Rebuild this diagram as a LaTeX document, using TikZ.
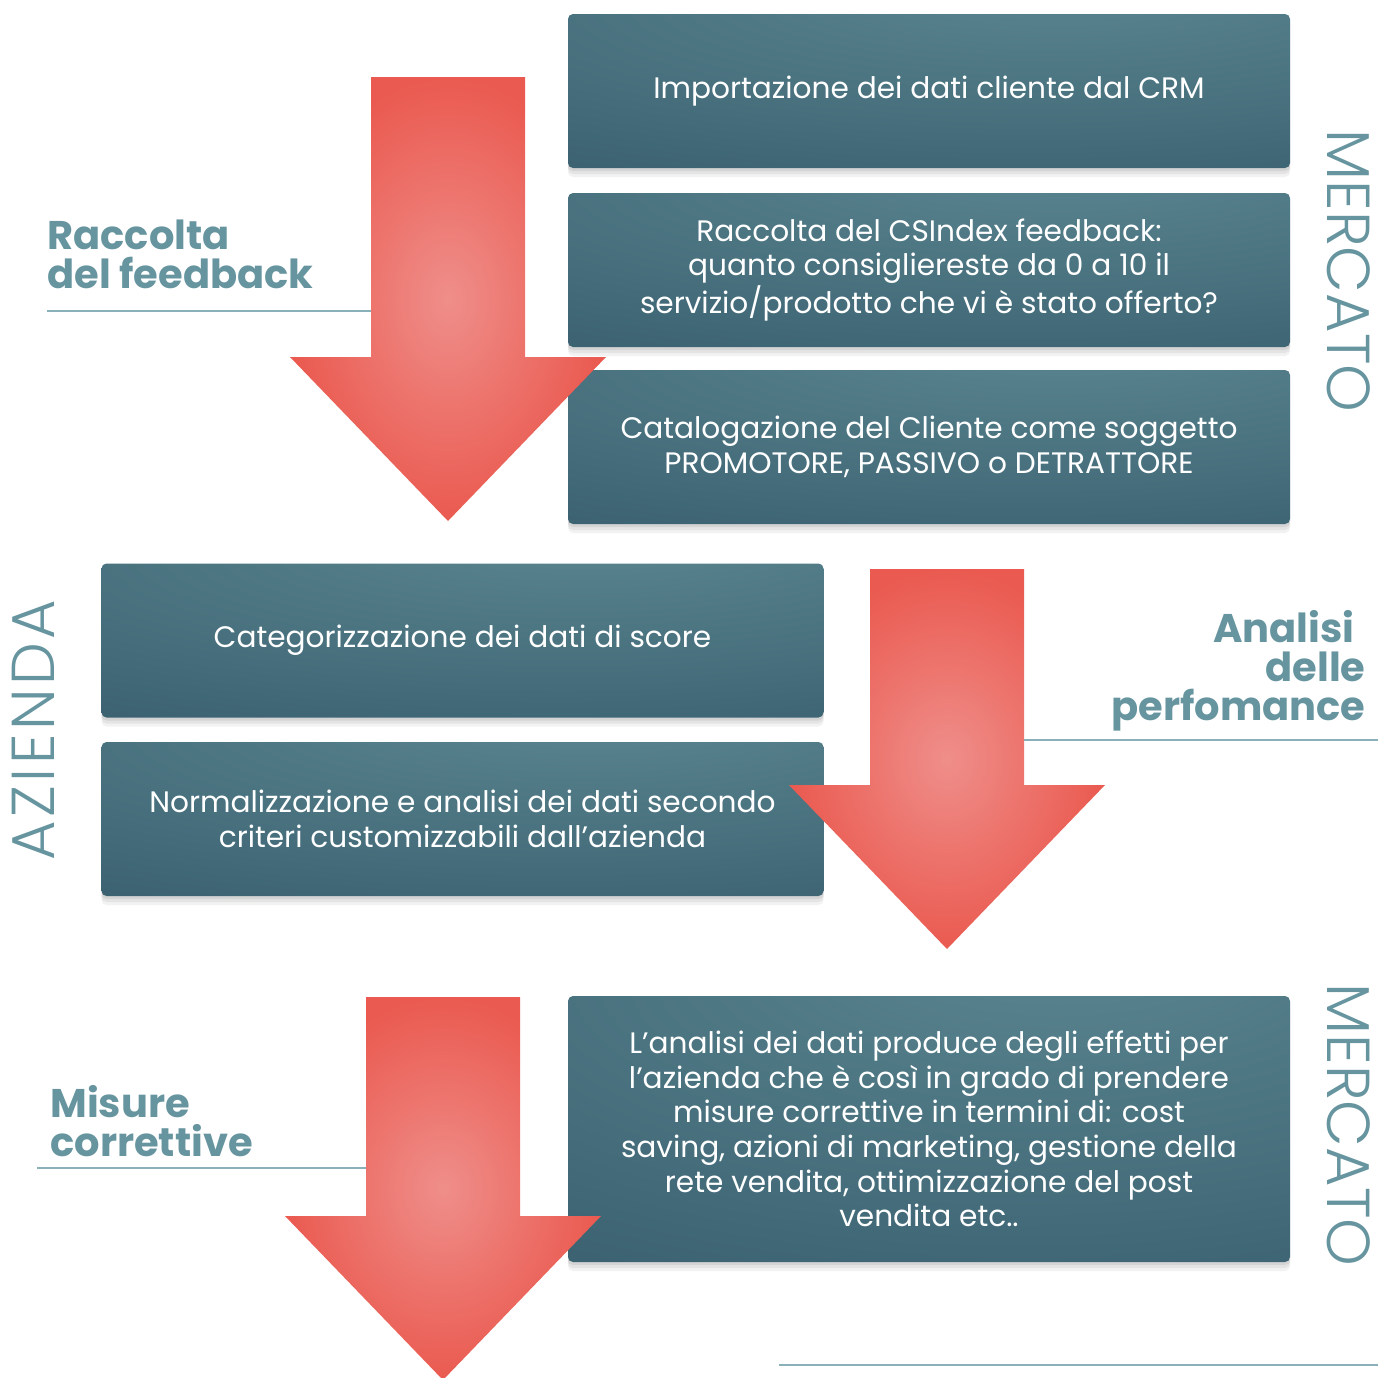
\documentclass[tikz,border=0pt]{standalone}
\usepackage{fontspec}
\setmainfont{Poppins}
\newfontfamily\sidefont{Poppins Light}
\usetikzlibrary{shadows}

\definecolor{boxhi}{HTML}{5C8792}
\definecolor{boxlo}{HTML}{345969}
\definecolor{arrowin}{HTML}{EF8E8A}
\definecolor{arrowout}{HTML}{EA5A50}
\definecolor{titlecol}{HTML}{66949F}
\definecolor{rulecol}{HTML}{8AB0B9}

\pgfdeclareradialshading{boxlight}{\pgfpoint{10bp}{38bp}}{color(0bp)=(boxhi); color(70bp)=(boxlo); color(130bp)=(boxlo)}

\tikzset{
	stepbox/.style={rectangle, rounded corners=2.5pt, shading=boxlight, shade,
		text=white, align=center, inner sep=0pt,
		minimum width=361pt, minimum height=77pt,
		font=\fontsize{14.8pt}{17.3pt}\selectfont,
		general shadow={fill=black, opacity=.07, shadow yshift=-1.5pt},
		general shadow={fill=black, opacity=.06, shadow yshift=-3pt},
		general shadow={fill=black, opacity=.05, shadow yshift=-4.5pt}},
	bigarrow/.style={inner color=arrowin, outer color=arrowout},
	phase/.style={text=titlecol, inner sep=0pt,
		font=\fontsize{20pt}{19.5pt}\selectfont\bfseries},
	side/.style={text=titlecol, inner sep=0pt,
		font=\sidefont\fontsize{30.3pt}{31pt}\selectfont},
	phaseline/.style={draw=rulecol, line width=1pt},
}

\begin{document}
\begin{tikzpicture}[x=0.5pt,y=-0.5pt]
	\useasboundingbox (0,0) rectangle (1378,1378);

	% mercato: raccolta
	\node[stepbox](import) at (929,91) {Importazione dei dati cliente dal CRM};
	\node[stepbox](csindex) at (929,270) {Raccolta del CSIndex feedback:\\quanto consigliereste da 0 a 10 il\\servizio/prodotto che vi è stato offerto?};
	\node[stepbox](catalog) at (929,447) {Catalogazione del Cliente come soggetto\\PROMOTORE, PASSIVO o DETRATTORE};
	\shade[bigarrow] (371,77) -- (525,77) -- (525,357) -- (606,357) -- (448,521) -- (290,357) -- (371,357) -- cycle;
	\node[phase,anchor=north west,align=left](feedback) at (47,219) {Raccolta\\del feedback};
	\draw[phaseline] (47,311) -- (371,311);
	\node[side,rotate=-90](mercato1) at (1349,271) {MERCATO};

	% azienda: analisi
	\node[stepbox](score) at (462.5,640.5) {Categorizzazione dei dati di score};
	\node[stepbox](normal) at (462.5,819) {Normalizzazione e analisi dei dati secondo\\criteri customizzabili dall’azienda};
	\shade[bigarrow] (870,569) -- (1024,569) -- (1024,785) -- (1105,785) -- (947,949) -- (789,785) -- (870,785) -- cycle;
	\node[phase,anchor=north east,align=right](perf) at (1366,610) {Analisi\kern5.5pt\\delle\\perfomance};
	\draw[phaseline] (1024,740) -- (1378,740);
	\node[side,rotate=90](azienda) at (33,730) {\addfontfeatures{LetterSpace=5.8}AZIENDA};

	% mercato: misure
	\node[stepbox,minimum height=133pt](effetti) at (929,1129) {L’analisi dei dati produce degli effetti per\\l’azienda che è così in grado di prendere\\misure correttive in termini di: cost\\saving, azioni di marketing, gestione della\\rete vendita, ottimizzazione del post\\vendita etc..};
	\shade[bigarrow] (366,997) -- (520,997) -- (520,1216) -- (601,1216) -- (443,1380) -- (285,1216) -- (366,1216) -- cycle;
	\node[phase,anchor=north west,align=left](misure) at (50,1085) {Misure\\correttive};
	\draw[phaseline] (37,1168) -- (366,1168);
	\node[side,rotate=-90](mercato2) at (1349,1125) {MERCATO};
	\draw[phaseline] (779,1365) -- (1378,1365);
\end{tikzpicture}
\end{document}
